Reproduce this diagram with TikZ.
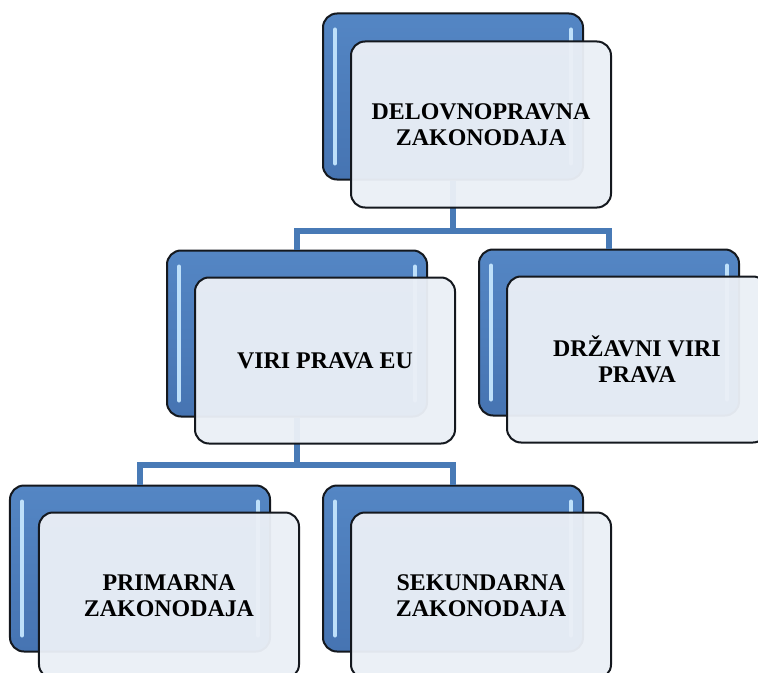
\documentclass[tikz,border=0pt]{standalone}
\usepackage{fontspec}
\setmainfont{Liberation Serif}
\usepackage{xcolor}

\definecolor{okvirsvetel}{RGB}{84,134,196}
\definecolor{okvirtemen}{RGB}{70,116,178}
\definecolor{sij}{RGB}{190,224,250}
\definecolor{polje}{RGB}{234,239,246}
\definecolor{veza}{RGB}{72,122,182}
\definecolor{rob}{RGB}{20,24,30}

\begin{document}
\begin{tikzpicture}[
	x = 1bp, y = -1bp, thick,
	modri/.style = {draw = rob, line width = 2bp, rounded corners = 14bp,
		top color = okvirsvetel, bottom color = okvirtemen,
		minimum width = 260bp, minimum height = 166bp, inner sep = 0pt,
		path picture = {
			\draw[sij, line width = 4bp, line cap = round]
			([xshift=12bp,yshift=-16bp]path picture bounding box.north west) --
			([xshift=12bp,yshift=16bp]path picture bounding box.south west);
			\draw[sij, line width = 4bp, line cap = round]
			([xshift=-12bp,yshift=-16bp]path picture bounding box.north east) --
			([xshift=-12bp,yshift=16bp]path picture bounding box.south east);
		}},
	beli/.style = {draw = rob, line width = 2bp, rounded corners = 14bp,
		fill = polje, fill opacity = 0.96, text opacity = 1,
		minimum width = 260bp, minimum height = 166bp, inner sep = 0pt,
		align = center, font = \bfseries\fontsize{24}{26}\selectfont},
	povezava/.style = {draw = veza, line width = 5.5bp}
	]
	\useasboundingbox (0,0) rectangle (758,673);
	\clip (0,0) rectangle (758,673);

	% zadnji (modri) okvirji
	\coordinate (bus1) at (0,231);
	\coordinate (bus2) at (0,465);
	\node[modri] (vrh)  at (453,96.5) {};
	\node[modri] (eu)   at (297,333.5) {};
	\node[modri] (drz)  at (609,332.5) {};
	\node[modri] (prim) at (140,568.5) {};
	\node[modri] (sek)  at (453,568.5) {};

	% povezave
	\draw[povezava] (vrh.south) -- (vrh.south |- bus1) -| (eu.north);
	\draw[povezava] (vrh.south |- bus1) -| (drz.north);
	\draw[povezava] (eu.south) -- (eu.south |- bus2) -| (prim.north);
	\draw[povezava] (eu.south |- bus2) -| (sek.north);

	% sprednji okvirji z besedilom
	\node[beli] (vrh-t)  at ([shift={(28,28)}]vrh.center)  {DELOVNOPRAVNA\\ZAKONODAJA};
	\node[beli] (eu-t)   at ([shift={(28,27)}]eu.center)   {VIRI PRAVA EU};
	\node[beli] (drz-t)  at ([shift={(28,27)}]drz.center)  {DRŽAVNI VIRI\\PRAVA};
	\node[beli] (prim-t) at ([shift={(29,27)}]prim.center) {PRIMARNA\\ZAKONODAJA};
	\node[beli] (sek-t)  at ([shift={(28,27)}]sek.center)  {SEKUNDARNA\\ZAKONODAJA};
\end{tikzpicture}
\end{document}
